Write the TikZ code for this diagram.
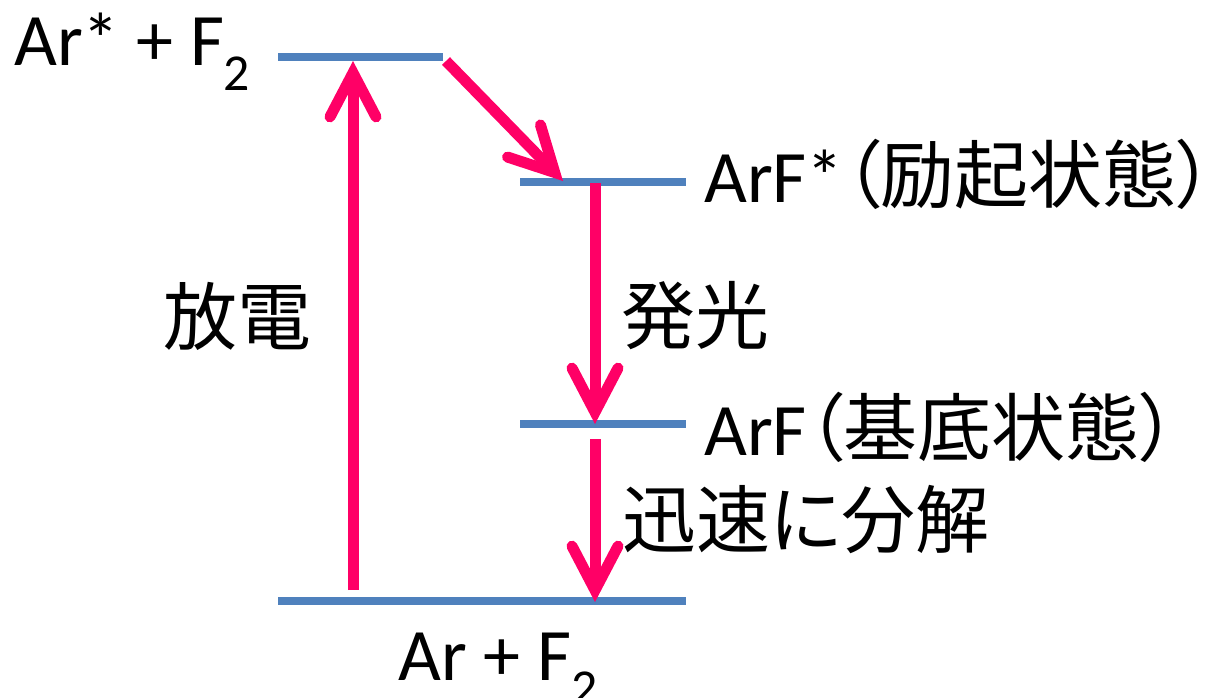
\documentclass[tikz,border=0pt]{standalone}
\usepackage{fontspec}
\setmainfont{Carlito}
\newfontfamily\jpfont{Noto Sans CJK JP}[Scale=1.0,RawFeature=+palt]
\usetikzlibrary{arrows.meta}
\definecolor{levelcolor}{RGB}{79,129,189}
\definecolor{arrowcolor}{RGB}{255,0,102}

\begin{document}
\begin{tikzpicture}[
    x=1pt, y=-1pt,
    level/.style={levelcolor, line width=8pt},
    arrow/.style={arrowcolor, line width=11pt, -{Straight Barb[length=44pt,width=46pt,line cap=round]}},
    txt/.style={font=\fontsize{74}{88}\selectfont, inner sep=0pt}
]
    \useasboundingbox (0,0) rectangle (1210,697);

    % Energy levels
    \coordinate (top-l) at (278,57);
    \coordinate (top-r) at (443,57);
    \coordinate (exc-l) at (520,182);
    \coordinate (exc-r) at (686,182);
    \coordinate (gnd-l) at (520,424);
    \coordinate (gnd-r) at (686,424);
    \coordinate (bot-l) at (278,601);
    \coordinate (bot-r) at (686,601);
    \draw[level] (top-l) -- (top-r);
    \draw[level] (exc-l) -- (exc-r);
    \draw[level] (gnd-l) -- (gnd-r);
    \draw[level] (bot-l) -- (bot-r);

    % Arrow ends
    \coordinate (dis-s) at (353,590);
    \coordinate (dis-e) at (353,61);
    \coordinate (rel-s) at (446,61);
    \coordinate (rel-e) at (563,181);
    \coordinate (emi-s) at (595,183);
    \coordinate (emi-e) at (595,424);
    \coordinate (dec-s) at (595,439);
    \coordinate (dec-e) at (595,602);

    % Arrows
    \draw[arrow] (dis-s) -- (dis-e);
    \draw[arrow] (rel-s) -- (rel-e);
    \draw[arrow] (emi-s) -- (emi-e);
    \draw[arrow] (dec-s) -- (dec-e);

    % Labels
    \node[txt, anchor=base west] (arstar) at (14,65) {Ar* + F\textsubscript{2}};
    \node[txt, anchor=base west] (arfstar) at (704,202) {ArF*{\jpfont（励起状態）}};
    \node[txt, anchor=base west] (arf) at (704,455) {ArF{\jpfont（基底状態）}};
    \node[txt, anchor=base west] (ar) at (398,680) {Ar + F\textsubscript{2}};
    \node[txt, font=\jpfont\fontsize{74}{88}\selectfont] (discharge) at (237,316) {放電};
    \node[txt, font=\jpfont\fontsize{74}{88}\selectfont] (emission) at (695,316) {発光};
    \node[txt, font=\jpfont\fontsize{74}{88}\selectfont] (decay) at (806,520) {迅速に分解};
\end{tikzpicture}
\end{document}
